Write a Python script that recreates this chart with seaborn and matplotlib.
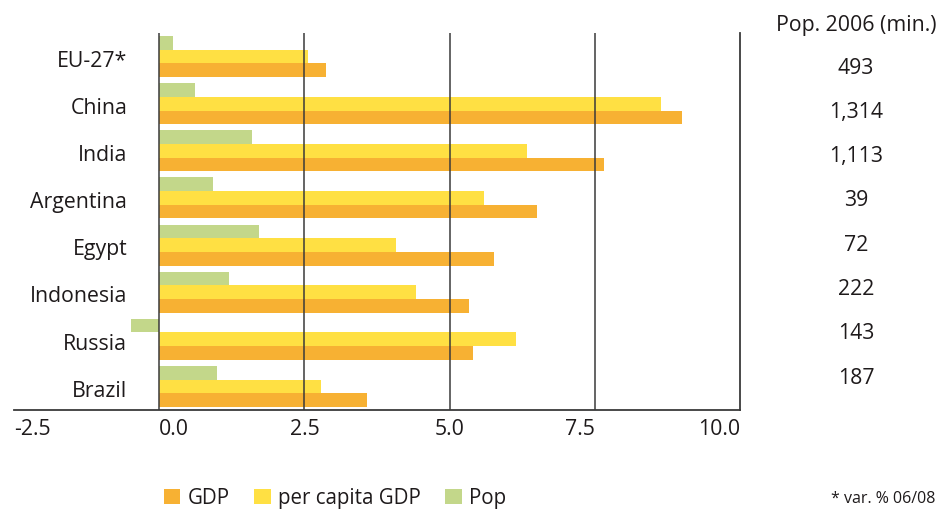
import matplotlib
matplotlib.use("Agg")
import matplotlib.pyplot as plt
from matplotlib.patches import Patch
import seaborn as sns
import pandas as pd

countries = ["EU-27*", "China", "India", "Argentina", "Egypt", "Indonesia", "Russia", "Brazil"]
gdp = [2.88, 9.00, 7.66, 6.50, 5.76, 5.34, 5.40, 3.57]
per_capita_gdp = [2.57, 8.64, 6.34, 5.59, 4.07, 4.43, 6.14, 2.78]
pop_var = [0.24, 0.62, 1.60, 0.93, 1.72, 1.21, -0.48, 1.00]
pop_2006 = ["493", "1,314", "1,113", "39", "72", "222", "143", "187"]
xticks = [-2.5, 0.0, 2.5, 5.0, 7.5, 10.0]
xtick_labels = ["-2.5", "0.0", "2.5", "5.0", "7.5", "10.0"]

series_names = ["GDP", "per capita GDP", "Pop"]
colors = {"GDP": "#F7B133", "per capita GDP": "#FFE043", "Pop": "#C3D78A"}

df = pd.DataFrame({
    "country": countries * 3,
    "value": gdp + per_capita_gdp + pop_var,
    "series": ["GDP"] * 8 + ["per capita GDP"] * 8 + ["Pop"] * 8,
})

sns.set_theme(style="white")
FONT = ["Open Sans", "DejaVu Sans"]
plt.rcParams["font.family"] = FONT
TXT = "#1e1a1b"
FS = 15.3

fig = plt.figure(figsize=(9.38, 5.10), dpi=100)
ax = fig.add_axes([14 / 938, 1 - 411 / 510, (740 - 14) / 938, (411 - 34) / 510])

sns.barplot(data=df, y="country", x="value", hue="series",
            hue_order=["Pop", "per capita GDP", "GDP"], order=countries,
            palette=colors, orient="h", width=0.87, dodge=True,
            saturation=1, legend=False, errorbar=None, linewidth=0, ax=ax)

ax.set_xlim(-2.5, 10.0)
ax.set_ylim(len(countries) - 0.5, -0.5)
ax.set_xlabel("")
ax.set_ylabel("")
ax.set_yticks([])

line_col = "#3a3a3a"
for xv in [0.0, 2.5, 5.0, 7.5]:
    ax.axvline(xv, color=line_col, lw=1.1, zorder=5)

for side in ["top", "left"]:
    ax.spines[side].set_visible(False)
for side in ["bottom", "right"]:
    ax.spines[side].set_visible(True)
    ax.spines[side].set_color(line_col)
    ax.spines[side].set_linewidth(1.3)

ax.set_xticks(xticks)
ax.set_xticklabels(xtick_labels)
ax.tick_params(axis="x", direction="in", length=7, width=1.1, color=line_col,
               labelsize=FS, labelcolor=TXT, pad=6)
aligns = ["left", "left", "center", "center", "right", "right"]
for lab, ha in zip(ax.get_xticklabels(), aligns):
    lab.set_ha(ha)

for i, c in enumerate(countries):
    ax.text(-0.55, i + 0.08, c, ha="right", va="center", fontsize=FS, color=TXT)

# population column
fig.text(856 / 938, 1 - 25 / 510, "Pop. 2006 (min.)", ha="center", va="center",
         fontsize=FS, color=TXT)
for i, p in enumerate(pop_2006):
    fig.text(856 / 938, 1 - (68 + i * 44.3) / 510, p, ha="center", va="center",
             fontsize=FS, color=TXT)

handles = [Patch(facecolor=colors[s], edgecolor="none", label=s) for s in series_names]
fig.legend(handles=handles, loc="center left", bbox_to_anchor=(164 / 938, 1 - 499 / 510),
           ncol=3, frameon=False, fontsize=14.8, handlelength=0.8, handleheight=0.75,
           handletextpad=0.35, columnspacing=1.2, borderpad=0, borderaxespad=0,
           labelcolor=TXT)

fig.text(935 / 938, 1 - 499 / 510, "* var. % 06/08", ha="right", va="center",
         fontsize=11.5, color=TXT)

fig.savefig("out.png", dpi=100)
